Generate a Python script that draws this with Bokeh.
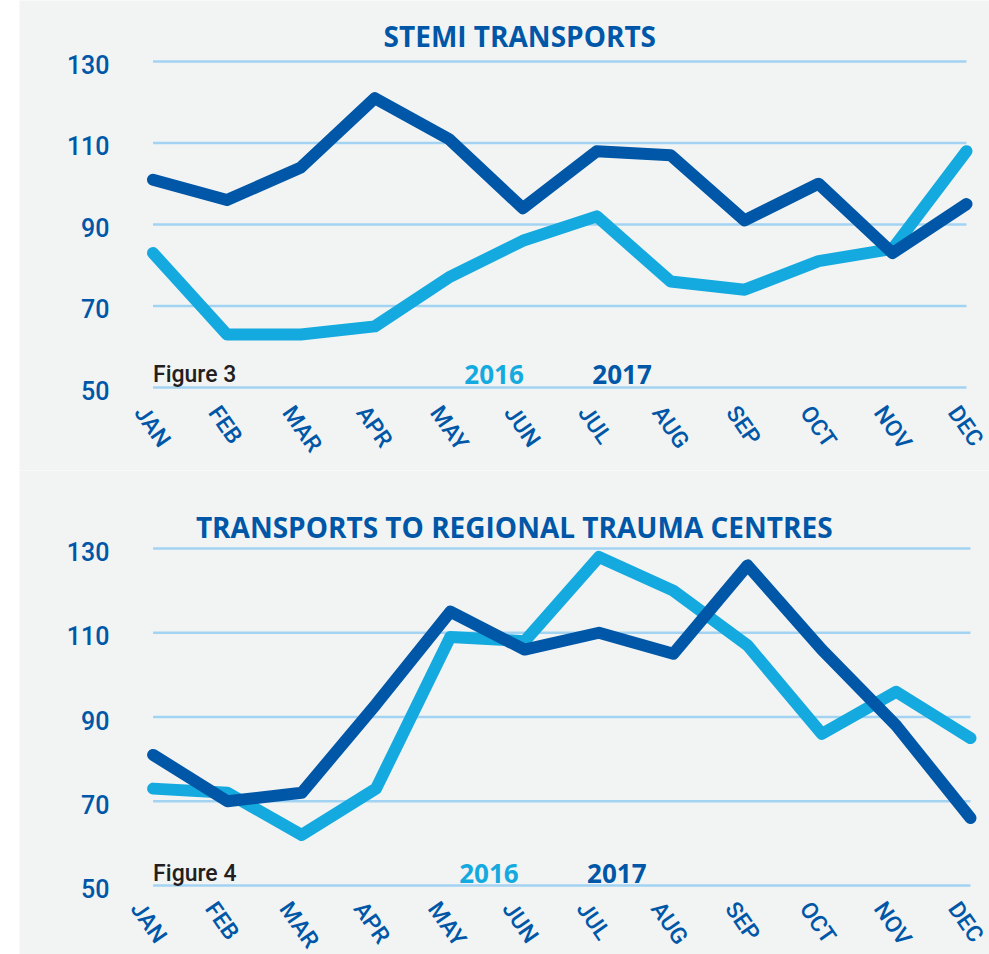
from bokeh.plotting import figure
from bokeh.models import Range1d, Spacer
from bokeh.layouts import row, column
from bokeh.core.properties import value
from bokeh.embed import file_html
from bokeh.resources import INLINE

# ---- data ----
months = ["JAN", "FEB", "MAR", "APR", "MAY", "JUN", "JUL", "AUG", "SEP", "OCT", "NOV", "DEC"]
y_ticks = [50, 70, 90, 110, 130]
y_tick_labels = ["50", "70", "90", "110", "130"]

stemi_2016 = [83, 63, 63, 65, 77, 86, 92, 76, 74, 81, 84, 108]
stemi_2017 = [101, 96, 104, 121, 111, 94, 108, 107, 91, 100, 83, 95]

trauma_2016 = [73, 72, 62, 73, 109, 108, 128, 120, 107, 86, 96, 85]
trauma_2017 = [81, 70, 72, 93, 115, 106, 110, 105, 126, 106, 88, 66]

series_labels = ["2016", "2017"]

# ---- style ----
BG = "#f2f4f4"
DARK = "#0057a7"
LIGHT = "#14aadf"
GRID = "#a3d3f3"
FONT = value("Open Sans")
MED = value("Roboto Medium, Open Sans")


def make_chart(title, fig_label, s2016, s2017, height, x_rng, y_rng,
               ytick_x, month_y, month_shift, title_pos, leg_y, leg_x):
    x = list(range(len(months)))
    p = figure(width=970, height=height,
               x_range=Range1d(*x_rng), y_range=Range1d(*y_rng),
               output_backend="svg", toolbar_location=None,
               x_axis_location=None, y_axis_location=None,
               min_border=0)
    p.background_fill_color = BG
    p.border_fill_color = BG
    p.outline_line_color = None
    p.grid.visible = False

    # horizontal grid lines spanning JAN..DEC
    p.segment(x0=[x[0]] * len(y_ticks), x1=[x[-1]] * len(y_ticks),
              y0=y_ticks, y1=y_ticks, line_color=GRID, line_width=2.5)

    # y tick labels
    p.text(x=[ytick_x] * len(y_ticks), y=y_ticks, text=y_tick_labels,
           text_align="right", text_baseline="middle", y_offset=3,
           text_font=MED, text_font_size="25px", text_color=DARK)

    # series
    p.line(x, s2016, line_color=LIGHT, line_width=12,
           line_cap="round", line_join="round")
    p.line(x, s2017, line_color=DARK, line_width=12,
           line_cap="round", line_join="round")

    # month labels
    p.text(x=[xi - month_shift for xi in x], y=[month_y] * len(x), text=months,
           angle=-0.96, text_align="left", text_baseline="middle",
           text_font=MED, text_font_size="23px", text_color=DARK)

    # title
    p.text(x=[title_pos[0]], y=[title_pos[1]], text=[title],
           text_align="center", text_baseline="alphabetic",
           text_font=FONT, text_font_size="28px", text_font_style="bold",
           text_color=DARK)

    # figure caption + legend
    p.text(x=[x[0]], y=[leg_y], text=[fig_label], text_align="left",
           text_baseline="alphabetic", text_font=MED,
           text_font_size="23px", text_color="#231f20")
    p.text(x=[leg_x[0]], y=[leg_y], text=[series_labels[0]],
           text_align="left", text_baseline="alphabetic",
           text_font=FONT, text_font_size="26px", text_font_style="bold",
           text_color=LIGHT)
    p.text(x=[leg_x[1]], y=[leg_y], text=[series_labels[1]],
           text_align="left", text_baseline="alphabetic",
           text_font=FONT, text_font_size="26px", text_font_style="bold",
           text_color=DARK)
    return p


p1 = make_chart("STEMI TRANSPORTS", "Figure 3", stemi_2016, stemi_2017,
                height=470, x_rng=(-1.805, 11.311), y_rng=(29.63, 144.97),
                ytick_x=-0.588, month_y=44.85, month_shift=0.18,
                title_pos=(4.96, 136.2), leg_y=53.2, leg_x=(4.21, 5.94))
p2 = make_chart("TRANSPORTS TO REGIONAL TRAUMA CENTRES", "Figure 4",
                trauma_2016, trauma_2017,
                height=484, x_rng=(-1.798, 11.256), y_rng=(33.62, 148.52),
                ytick_x=-0.587, month_y=45.49, month_shift=0.23,
                title_pos=(4.86, 135.0), leg_y=52.85, leg_x=(4.12, 5.84))

layout = row(Spacer(width=19, height=954), column(p1, p2))

open("out.html", "w").write(file_html(layout, INLINE))
